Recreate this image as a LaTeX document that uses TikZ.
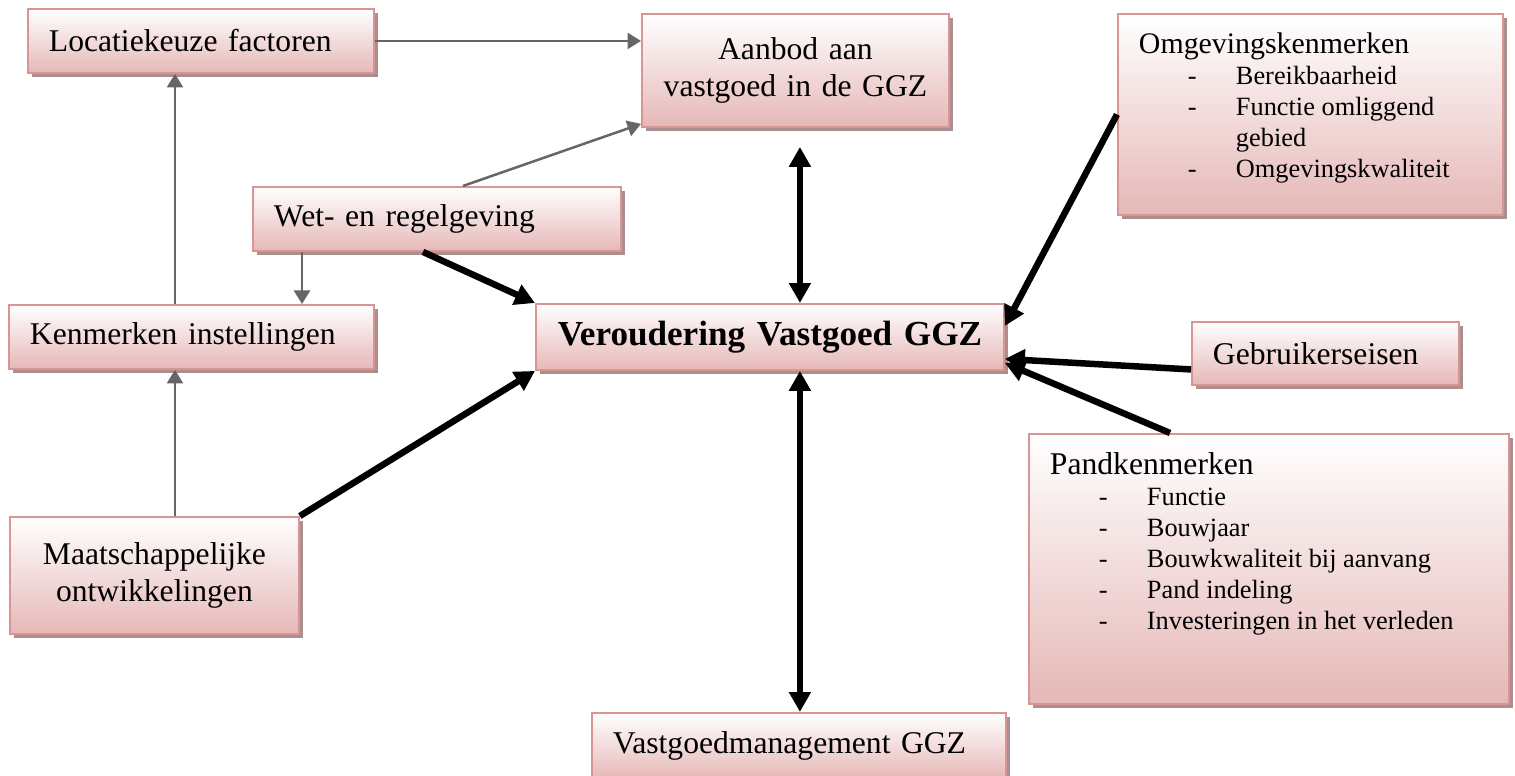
\documentclass[tikz,border=0pt]{standalone}
\usepackage{fontspec}
\setmainfont{Liberation Serif}
\usetikzlibrary{arrows.meta,calc,shadows}
\newlength\pxu
\setlength\pxu{0.02cm}
\definecolor{boxedge}{RGB}{217,149,148}
\definecolor{boxfoot}{RGB}{229,184,183}
\definecolor{boxshade}{RGB}{172,142,142}
\definecolor{linkgray}{RGB}{102,102,102}
% one dashed item of a list box
\newcommand{\itm}[1]{\hspace*{49\pxu}\makebox[48\pxu][l]{-}#1}
\tikzset{
  factor/.style={draw=boxedge, line width=1.1pt, top color=white, bottom color=boxfoot,
    drop shadow={shadow xshift=0.08cm, shadow yshift=-0.08cm, opacity=1, fill=boxshade},
    anchor=north west, inner xsep=0.42cm, inner ysep=0pt, align=left,
    font=\fontsize{18}{21}\selectfont},
  listbox/.style={factor, inner ysep=0.38cm, font=\fontsize{15}{17.6}\selectfont},
  thinlink/.style={draw=linkgray, line width=0.05cm, -{Triangle[length=0.27cm,width=0.32cm]}},
  boldlink/.style={line width=0.13cm, -{Triangle[length=0.4cm,width=0.42cm]}},
  boldboth/.style={line width=0.13cm, {Triangle[length=0.4cm,width=0.42cm]}-{Triangle[length=0.4cm,width=0.42cm]}}
}
\begin{document}
\begin{tikzpicture}[x=0.02cm, y=-0.02cm]
  \useasboundingbox (0,0) rectangle (1515,776);

  % left column
  \node[factor, text width=6.08cm, minimum height=1.28cm] (loc) at (27,8) {Locatiekeuze factoren};
  \node[factor, text width=6.52cm, minimum height=1.28cm] (wet) at (252,186) {Wet- en regelgeving};
  \node[factor, text width=6.46cm, minimum height=1.28cm] (ken) at (8,304) {Kenmerken instellingen};
  \node[factor, text width=4.94cm, minimum height=2.34cm, align=center] (maat) at (9,516) {Maatschappelijke\\ontwikkelingen};

  % middle column
  \node[factor, text width=5.30cm, minimum height=2.26cm, align=center] (aanbod) at (641,13) {Aanbod aan\\vastgoed in de GGZ};
  \node[factor, text width=8.52cm, minimum height=1.32cm, align=center,
    font=\bfseries\fontsize{20}{24}\selectfont] (ver) at (535,303) {Veroudering Vastgoed GGZ};
  \node[factor, text width=7.44cm, minimum height=1.32cm] (vgm) at (591,712) {Vastgoedmanagement GGZ};

  % right column
  \node[listbox] (omg) at (1117,13) {\parbox[t][163\pxu][t]{343\pxu}{%
    {\fontsize{17}{17.6}\selectfont Omgevingskenmerken}\\
    \itm{Bereikbaarheid}\\
    \itm{Functie omliggend}\\
    \hspace*{97\pxu}gebied\\
    \itm{Omgevingskwaliteit}}};
  \node[factor, text width=4.50cm, minimum height=1.26cm] (geb) at (1191,321) {Gebruikerseisen};
  \node[listbox] (pand) at (1028,433) {\parbox[t][232\pxu][t]{438\pxu}{%
    {\fontsize{18}{17.6}\selectfont Pandkenmerken}\\
    \itm{Functie}\\
    \itm{Bouwjaar}\\
    \itm{Bouwkwaliteit bij aanvang}\\
    \itm{Pand indeling}\\
    \itm{Investeringen in het verleden}}};

  % foot points of the straight links
  \coordinate (kenup) at ($(ken.north west)+(167,0)$);
  \coordinate (maatup) at ($(maat.north west)+(166,0)$);
  \coordinate (wetdown) at ($(wet.south west)+(50,0)$);
  \coordinate (verup) at ($(ver.north)+(30,0)$);
  \coordinate (verdown) at ($(ver.south)+(30,0)$);

  % grey links
  \draw[thinlink] (loc.east) -- (loc.east -| aanbod.west);
  \draw[thinlink] ($(wet.north)+(26,0)$) -- ($(aanbod.south west)+(0,-4)$);
  \draw[thinlink] (kenup) -- (kenup |- loc.south);
  \draw[thinlink] (maatup) -- (maatup |- ken.south);
  \draw[thinlink] (wetdown) -- (wetdown |- ken.north);

  % black links into the centre
  \draw[boldlink] ($(wet.south west)+(171,0)$) -- (ver.north west);
  \draw[boldlink] (maat.north east) -- (ver.south west);
  \draw[boldboth, shorten >=0.38cm] (verup) -- (verup |- aanbod.south);
  \draw[boldboth] (verdown) -- (verdown |- vgm.north);
  \draw[boldlink] (omg.west) -- ($(ver.east)+(0,-11)$);
  \draw[boldlink] ($(geb.west)+(0,16)$) -- ($(ver.east)+(0,22)$);
  \draw[boldlink] ($(pand.north west)+(142,0)$) -- ($(ver.east)+(0,26)$);
\end{tikzpicture}
\end{document}
